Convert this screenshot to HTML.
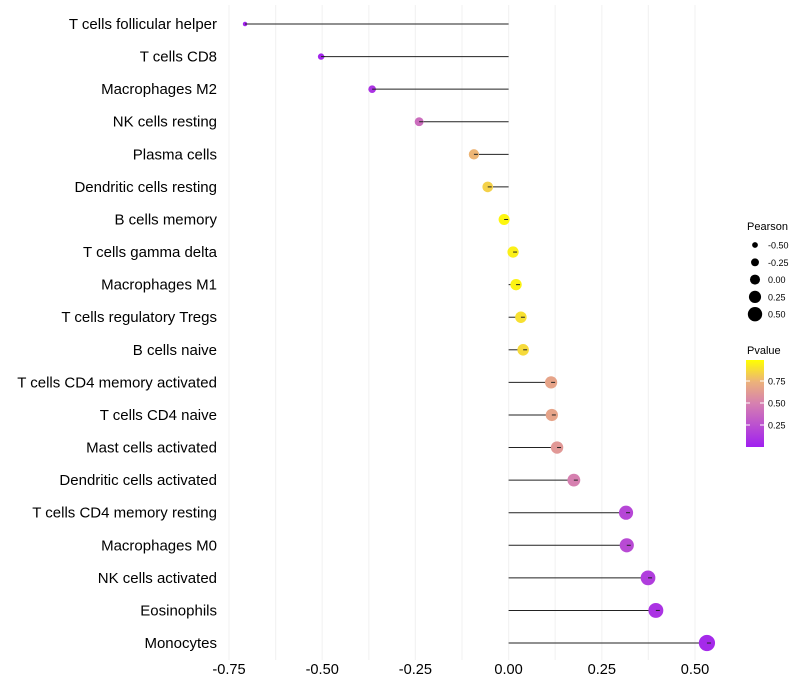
<!DOCTYPE html>
<html><head><meta charset="utf-8"><style>
body{margin:0;background:#fff;}
svg{display:block;font-family:"Liberation Sans",sans-serif;}
</style></head><body>
<svg id="chart" width="800" height="700"></svg>
<script>
const categories=["T cells follicular helper","T cells CD8","Macrophages M2","NK cells resting","Plasma cells","Dendritic cells resting","B cells memory","T cells gamma delta","Macrophages M1","T cells regulatory  Tregs","B cells naive","T cells CD4 memory activated","T cells CD4 naive","Mast cells activated","Dendritic cells activated","T cells CD4 memory resting","Macrophages M0","NK cells activated","Eosinophils","Monocytes"];
const pearson=[-0.707,-0.503,-0.366,-0.240,-0.093,-0.056,-0.012,0.012,0.020,0.033,0.039,0.114,0.116,0.130,0.175,0.315,0.317,0.374,0.395,0.532];
const pvalues=[0.02,0.03,0.1,0.4,0.76,0.85,0.97,0.95,0.96,0.9,0.88,0.68,0.68,0.62,0.5,0.2,0.22,0.15,0.1,0.05];
const xTicks=[-0.75,-0.5,-0.25,0,0.25,0.5];
const xTickLabels=["-0.75","-0.50","-0.25","0.00","0.25","0.50"];
const sizeLegend=[-0.5,-0.25,0,0.25,0.5];
const sizeLegendLabels=["-0.50","-0.25","0.00","0.25","0.50"];
const pTicks=[0.25,0.5,0.75];
const pTickLabels=["0.25","0.50","0.75"];

const NS="http://www.w3.org/2000/svg";
const svg=document.getElementById('chart');
const x=v=>508.6+v*372.8;
const y=i=>24+i*32.58;
const r=v=>2.2+(v+0.71)/1.24*5.9;
function lerp(a,b,t){return Math.round(a+(b-a)*t);}
const stops=[[0,[160,32,240]],[0.5,[214,128,176]],[0.75,[236,178,122]],[1,[255,255,0]]];
function col(p){for(let k=1;k<stops.length;k++){if(p<=stops[k][0]){const a=stops[k-1],b=stops[k];const t=(p-a[0])/(b[0]-a[0]);return `rgb(${lerp(a[1][0],b[1][0],t)},${lerp(a[1][1],b[1][1],t)},${lerp(a[1][2],b[1][2],t)})`;}}return 'rgb(255,255,0)';}
function mk(tag,attrs,parent){const e=document.createElementNS(NS,tag);for(const k in attrs)e.setAttribute(k,attrs[k]);(parent||svg).appendChild(e);return e;}

for(let v=-0.75;v<=0.5001;v+=0.125){
  const g=mk('line',{x1:x(v),x2:x(v),y1:5,y2:660,stroke:'#f3f3f3','stroke-width':1.2});
  
  
}
xTicks.forEach((v,i)=>{
  const t=mk('text',{x:x(v),y:674,'font-size':14.6,'text-anchor':'middle',fill:'#000'});
  t.textContent=xTickLabels[i];
  
  
});
categories.forEach((c,i)=>{
  const t=mk('text',{x:217,y:y(i)+5,'font-size':15,'text-anchor':'end',fill:'#000'});
  t.textContent=c;
  
  
  const l=mk('line',{x1:x(0),x2:x(pearson[i]),y1:y(i),y2:y(i),stroke:'#222','stroke-width':1});
  
  
  const p=mk('circle',{cx:x(pearson[i]),cy:y(i),r:r(pearson[i]),fill:col(pvalues[i])});
  
  
  const tk=mk('line',{x1:x(pearson[i]),x2:x(pearson[i])+4,y1:y(i),y2:y(i),stroke:'#222','stroke-width':1});
  
  
});
const lt=mk('text',{x:747,y:230,'font-size':11,fill:'#000'});lt.textContent='Pearson';


sizeLegend.forEach((v,i)=>{
  const cy=245+i*17.3;
  const c=mk('circle',{cx:755,cy:cy,r:r(v)*0.9,fill:'#000'});
  
  
  const t=mk('text',{x:768,y:cy+3.5,'font-size':9,fill:'#000'});t.textContent=sizeLegendLabels[i];
  
  
});
const ct=mk('text',{x:747,y:354,'font-size':11,fill:'#000'});ct.textContent='Pvalue';


const defs=mk('defs',{});
const lg=mk('linearGradient',{id:'pg',x1:0,y1:1,x2:0,y2:0},defs);
stops.forEach(s=>mk('stop',{offset:s[0],'stop-color':`rgb(${s[1].join(',')})`},lg));
const bar=mk('rect',{x:746,y:360,width:18,height:87,fill:'url(#pg)'});


pTicks.forEach((v,i)=>{
  const yy=447-v*88;
  mk('line',{x1:746,x2:750,y1:yy,y2:yy,stroke:'#fff','stroke-width':1});
  mk('line',{x1:760,x2:764,y1:yy,y2:yy,stroke:'#fff','stroke-width':1});
  const t=mk('text',{x:768,y:yy+3.5,'font-size':9,fill:'#000'});t.textContent=pTickLabels[i];
  
  
});
</script>
</body></html>
